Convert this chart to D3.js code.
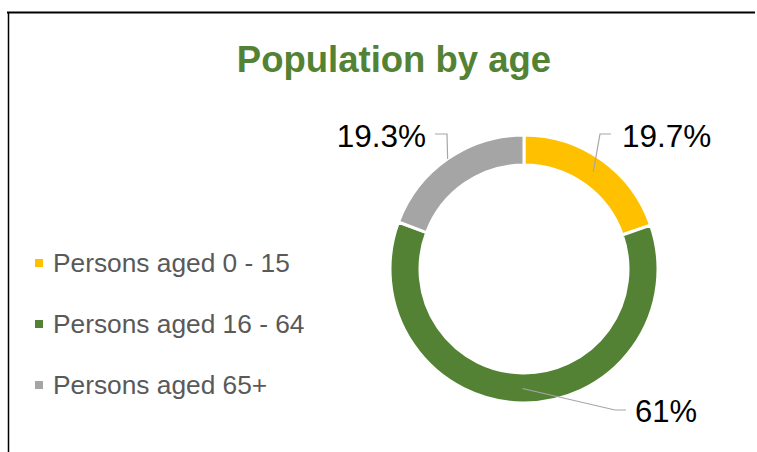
<!DOCTYPE html>
<html>
<head>
<meta charset="utf-8">
<script src="https://cdn.jsdelivr.net/npm/d3@7"></script>
<style>
  html, body { margin: 0; padding: 0; background: #fff; }
  svg { display: block; font-family: Arial, 'Liberation Sans', sans-serif; }
</style>
</head>
<body>
<svg id="chart" width="757" height="452"></svg>
<script>
const categories = ['Persons aged 0 - 15', 'Persons aged 16 - 64', 'Persons aged 65+']
const shares = [19.7, 61, 19.3]
const labels = ['19.7%', '61%', '19.3%']
const colors = ['#ffc000', '#548235', '#a5a5a5']

const width = 757
const height = 452
const cx = 524
const cy = 269
const outerR = 134
const innerR = 104

const svg = d3.select('#chart')

// frame (top and left edges only)
svg.append('line')
  .attr('x1', 7).attr('x2', 755).attr('y1', 12.5).attr('y2', 12.5)
  .attr('stroke', '#000').attr('stroke-width', 2)
svg.append('line')
  .attr('x1', 8.5).attr('x2', 8.5).attr('y1', 12).attr('y2', height)
  .attr('stroke', '#000').attr('stroke-width', 1.5)

svg.append('text')
  .attr('x', 394).attr('y', 72)
  .attr('text-anchor', 'middle')
  .attr('font-size', 36.5)
  .attr('font-weight', 'bold')
  .attr('fill', '#548235')
  .text('Population by age')

const pie = d3.pie().sort(null).value((d) => d)
const arcs = pie(shares)
const arc = d3.arc().innerRadius(innerR).outerRadius(outerR)

const g = svg.append('g').attr('transform', `translate(${cx},${cy})`)

g.selectAll('path')
  .data(arcs)
  .join('path')
  .attr('d', arc)
  .attr('fill', (_, i) => colors[i])
  .attr('stroke', '#fff')
  .attr('stroke-width', 3)

// label placement: leader elbow and text anchor, relative to centre
const labelLayout = [
  { r: 119.5, elbow: [76, -135], end: [87, -135], tx: 98, ty: -122, anchor: 'start', size: 31.5 },
  { r: 119.5, elbow: [91, 141], end: [102, 141], tx: 111, ty: 153, anchor: 'start', size: 31 },
  { r: 134, elbow: [-77, -135], end: [-89, -135], tx: -98, ty: -122, anchor: 'end', size: 31.5 }
]

arcs.forEach((a, i) => {
  const L = labelLayout[i]
  const mid = (a.startAngle + a.endAngle) / 2
  const p = [Math.sin(mid) * L.r, -Math.cos(mid) * L.r]
  g.append('polyline')
    .attr('points', [p, L.elbow, L.end].map((q) => q.join(',')).join(' '))
    .attr('fill', 'none')
    .attr('stroke', '#a6a6a6')
    .attr('stroke-width', 1.2)
  g.append('text')
    .attr('x', L.tx).attr('y', L.ty)
    .attr('text-anchor', L.anchor)
    .attr('font-size', L.size)
    .attr('fill', '#000')
    .text(labels[i])
})

const legend = svg.append('g')
const legendY = d3.scalePoint().domain(categories).range([272, 394])

categories.forEach((c, i) => {
  const y = legendY(c)
  legend.append('rect')
    .attr('x', 35).attr('y', y - 13)
    .attr('width', 8).attr('height', 8)
    .attr('fill', colors[i])
  legend.append('text')
    .attr('x', 53).attr('y', y)
    .attr('font-size', 26.3)
    .attr('fill', '#595959')
    .text(c)
})
</script>
</body>
</html>
